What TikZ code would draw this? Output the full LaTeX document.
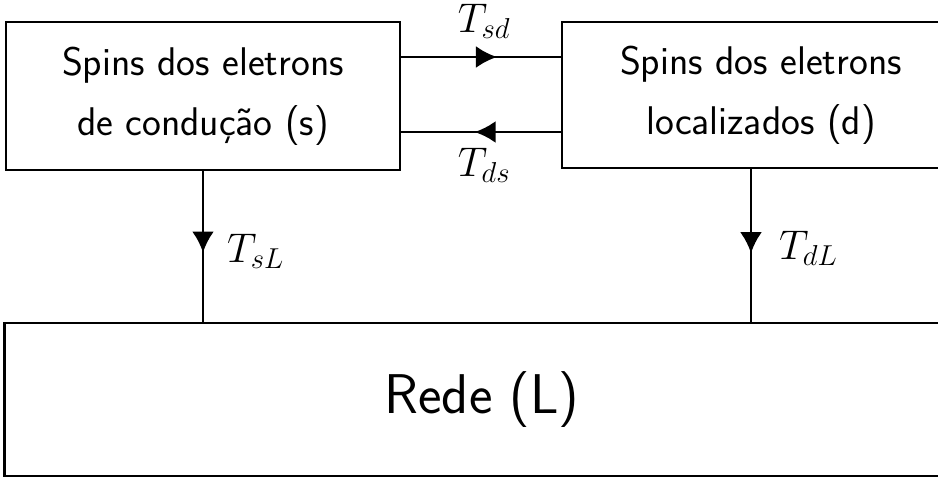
\documentclass[tikz,border=0pt]{standalone}
\usepackage{amsmath}
\usetikzlibrary{arrows.meta,positioning,calc,decorations.markings}

\begin{document}
\begin{tikzpicture}[x=0.5pt,y=-0.5pt,
  block/.style={draw,line width=1.4pt,inner sep=0pt,align=center,
    font=\sffamily\fontsize{20}{30}\selectfont},
  flow/.style={line width=1.4pt,postaction={decorate},
    decoration={markings,mark=at position #1 with {\arrow{Latex[length=10.5pt,width=11pt]}}}},
  rate/.style={font=\fontsize{20}{24}\selectfont}
]
\useasboundingbox (0,0) rectangle (938,478);
\clip (0,0) rectangle (938,478);
\node[block,minimum width=197pt,minimum height=74pt] (cond) at (203,96) {Spins dos eletrons\\de condução (s)};
\node[block,minimum width=199pt,minimum height=73pt] (loc) at (761,95) {Spins dos eletrons\\localizados (d)};
\node[block,minimum width=477.5pt,minimum height=76.5pt,font=\sffamily\fontsize{28}{34}\selectfont] (rede) at (482,399.5) {Rede (L)};
% trocas entre os dois sistemas de spins
\draw[flow=0.6] ([yshift=19.5pt]cond.east) -- ([yshift=19.5pt]cond.east -| loc.west)
  node[rate,pos=0.52,above=5pt] {$T_{sd}$};
\draw[flow=0.54] ([yshift=-18pt]cond.east -| loc.west) -- ([yshift=-18pt]cond.east)
  node[rate,pos=0.48,below=4pt] {$T_{ds}$};
% relaxacao para a rede
\draw[flow=0.54] (cond.south) -- (cond.south |- rede.north)
  node[rate,pos=0.53,right=8pt] {$T_{sL}$};
\draw[flow=0.55] ([xshift=-5pt]loc.south) -- ([xshift=-5pt]loc.south |- rede.north)
  node[rate,pos=0.52,right=10pt] {$T_{dL}$};
\end{tikzpicture}
\end{document}
